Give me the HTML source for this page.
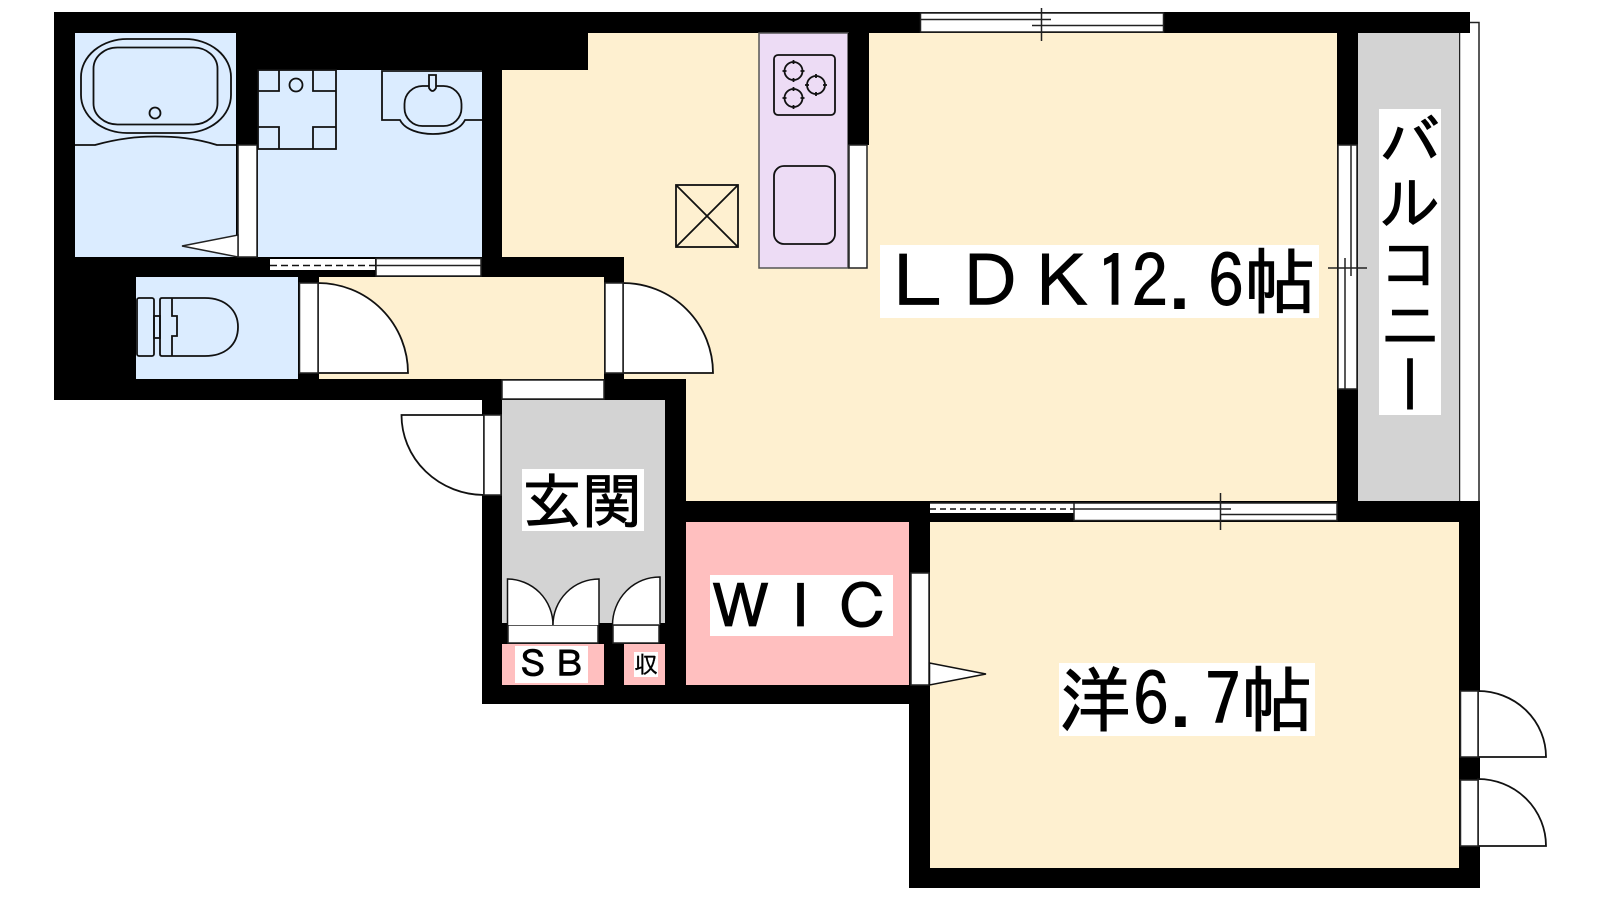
<!DOCTYPE html>
<html><head><meta charset="utf-8"><style>
html,body{margin:0;padding:0;background:#fff;width:1600px;height:900px;overflow:hidden}
svg{display:block}
text{font-family:"IPAGothic","Noto Sans CJK JP",sans-serif;fill:#000;stroke:#000;stroke-width:.9}
.l{fill:none;stroke:#111;stroke-width:1.8}
.w{fill:#fff;stroke:#222;stroke-width:1.5}
.t{stroke:#222;stroke-width:1.5;fill:none}
</style></head><body>
<svg width="1600" height="900" viewBox="0 0 1600 900" xmlns="http://www.w3.org/2000/svg">
<!-- balcony rail -->
<rect x="1459.5" y="22.5" width="19.5" height="490" class="w"/>
<!-- footprint -->
<polygon points="54,12 1470,12 1470,33 1459,33 1459,501 1480,501 1480,888 909,888 909,704 482,704 482,400 54,400" fill="#000"/>
<rect x="1358" y="33" width="101" height="468" fill="#d3d3d3"/>
<!-- rooms -->
<polygon points="588,33 1337,33 1337,501 686,501 686,379 624,379 624,257 502,257 502,70 588,70" fill="#fef0d0"/>
<rect x="319" y="277" width="285" height="102" fill="#fef0d0"/>
<rect x="930" y="522" width="529" height="346" fill="#fef0d0"/>
<rect x="75" y="33" width="161" height="224" fill="#dbecff"/>
<rect x="258" y="70" width="224" height="187" fill="#dbecff"/>
<rect x="136" y="277" width="162" height="102" fill="#dbecff"/>
<rect x="502" y="400" width="163" height="223" fill="#d3d3d3"/>
<rect x="686" y="522" width="223" height="163" fill="#ffbfbf"/>
<rect x="502" y="644" width="102" height="41" fill="#ffbfbf"/>
<rect x="624" y="644" width="41" height="41" fill="#ffbfbf"/>
<rect x="759" y="33" width="89" height="235" fill="#eddcf5" stroke="#555" stroke-width="1.5"/>
<!-- kitchen -->
<rect x="848" y="33" width="21" height="112" fill="#000"/>
<rect x="849" y="145" width="18" height="123" class="w"/>
<rect x="774" y="55" width="61" height="60" rx="4" class="l"/>
<g class="l"><circle cx="793.5" cy="71" r="9"/><circle cx="816" cy="85" r="9"/><circle cx="793.5" cy="98" r="9"/>
<path d="M793.5,60V64M793.5,78V82M782.5,71H786.5M800.5,71H804.5M816,74V78M816,92V96M805,85H809M823,85H827M793.5,87V91M793.5,105V109M782.5,98H786.5M800.5,98H804.5"/></g>
<rect x="774" y="166" width="61" height="78" rx="10" class="l"/>
<!-- shaft -->
<g class="l"><rect x="676" y="185" width="62" height="62"/><path d="M676,185L738,247M738,185L676,247"/></g>
<!-- bath -->
<g class="l">
<rect x="81" y="39" width="150" height="94" rx="46" ry="38"/>
<rect x="93.500" y="47.500" width="124" height="77" rx="24" ry="21"/>
<circle cx="155" cy="113" r="5.500"/>
<path d="M75,145H95C120,138 140,136.500 155,136.500C175,136.500 195,138 217,145H236"/>
</g>
<rect x="238" y="145" width="19" height="112" class="w"/>
<polygon points="182,246 238,235 238,257" class="w"/>
<!-- washroom -->
<g class="l">
<rect x="258" y="70" width="78" height="79"/>
<path d="M279,70V91H258M313,70V91H336M258,127H279V149M336,127H313V149"/>
<circle cx="296" cy="85" r="6.500"/>
<path d="M482,71H382V120H400C405,130 420,134 433,134C447,134 460,130 465,120H482"/>
<rect x="404.500" y="86" width="57" height="40" rx="18"/>
<path d="M429,75H436V88Q432.500,94 429,88Z" fill="#dbecff"/>
</g>
<!-- wash window -->
<rect x="270" y="259" width="105" height="11" fill="#fff"/>
<line x1="270" y1="265.500" x2="375" y2="265.500" stroke="#111" stroke-width="1.6" stroke-dasharray="7 4"/>
<rect x="376" y="258.500" width="105" height="17.500" class="w"/>
<line x1="376" y1="265.500" x2="481" y2="265.500" class="t"/>
<!-- toilet -->
<g class="l">
<rect x="137" y="298" width="17" height="58" rx="2"/>
<rect x="154" y="316" width="6" height="22"/>
<path d="M162,298H205C225,298 238,310 238,327C238,345 225,356 205,356H162Q160,356 160,354V300Q160,298 162,298Z"/>
<path d="M172,298V316H177V336H172V356"/>
</g>
<!-- toilet door -->
<rect x="298" y="277" width="21" height="6" fill="#000"/>
<rect x="298" y="373" width="21" height="6" fill="#000"/>
<path d="M318,283A90,90 0 0 1 408,373H318Z" class="w" style="stroke:#111;stroke-width:1.800"/>
<rect x="299.500" y="283" width="18.500" height="90" class="w"/>
<!-- hall door -->
<path d="M623,283A90,90 0 0 1 713,373H623Z" class="w" style="stroke:#111;stroke-width:1.800"/>
<rect x="605" y="283" width="18" height="90" class="w"/>
<!-- entrance top door -->
<rect x="502" y="380" width="102" height="19" class="w"/>
<!-- entrance outer door -->
<path d="M484,415H401.500A83,80 0 0 0 484,495Z" class="w" style="stroke:#111;stroke-width:1.800"/>
<rect x="484" y="415" width="17" height="80" class="w"/>
<!-- storage doors -->
<rect x="502" y="623" width="6" height="21" fill="#000"/><rect x="598" y="623" width="26" height="21" fill="#000"/><rect x="659" y="623" width="6" height="21" fill="#000"/>
<rect x="508" y="625" width="90" height="18" class="w"/>
<rect x="613" y="625" width="46" height="18" class="w"/>
<path d="M507.500,625V579A46,46 0 0 1 553,625" class="w" style="stroke:#111"/>
<path d="M599,625V579A46,46 0 0 0 553,625" class="w" style="stroke:#111"/>
<path d="M612.500,625A47,48 0 0 1 660,577V625" style="fill:#fff;stroke:#111;stroke-width:1.500"/>
<line x1="613" y1="625" x2="659" y2="625" stroke="#222" stroke-width="1.500"/>
<!-- WIC door -->
<rect x="911" y="573" width="18" height="112" class="w"/>
<polygon points="929.500,663 986,674 929.500,685" class="w" style="stroke:#111"/>
<!-- right doors -->
<path d="M1478,691A68,66 0 0 1 1546,757H1478Z" class="w" style="stroke:#111;stroke-width:1.800"/>
<rect x="1460.500" y="691" width="17.500" height="66" class="w"/>
<path d="M1478,779A68,67 0 0 1 1546,846H1478Z" class="w" style="stroke:#111;stroke-width:1.800"/>
<rect x="1460.500" y="780" width="17.500" height="66" class="w"/>
<!-- top window -->
<rect x="920.500" y="13" width="243" height="19" class="w"/>
<path d="M920.500,19.500H1051M1032,25.500H1164" class="t"/>
<path d="M1041.500,8V41" class="t"/>
<!-- right window -->
<rect x="1338" y="145" width="19" height="244" class="w"/>
<path d="M1351,145V276M1345,258V389" class="t"/>
<path d="M1328,268H1367" class="t"/>
<!-- bottom window -->
<rect x="930" y="503" width="144" height="10" fill="#fff"/>
<line x1="930" y1="509" x2="1074" y2="509" stroke="#111" stroke-width="1.500" stroke-dasharray="6 4"/>
<rect x="1074" y="503" width="263" height="17.500" class="w"/>
<path d="M930,503H1074M1074,509H1231M1221,514.500H1337M1220.500,493V530" class="t"/>
<!-- labels -->
<rect x="880" y="245" width="439" height="73" fill="#fff"/>
<text x="882" y="308" font-size="72">ＬＤＫ<tspan dx="-2">12.</tspan><tspan dx="4">6帖</tspan></text>
<rect x="1059" y="663" width="256" height="73" fill="#fff"/>
<text x="1059" y="726" font-size="72">洋<tspan dx="2">6.7帖</tspan></text>
<rect x="522" y="469" width="122" height="62" fill="#fff"/>
<text x="522" y="523" font-size="60">玄関</text>
<rect x="710" y="575" width="183" height="61" fill="#fff"/>
<text x="710" y="629" font-size="61">Ｗ<tspan dx="-1">Ｉ</tspan><tspan dx="1">Ｃ</tspan></text>
<rect x="515" y="646" width="73" height="37" fill="#fff"/>
<text x="515" y="677" font-size="36">ＳＢ</text>
<rect x="634" y="652" width="24" height="25" fill="#fff"/>
<text x="634" y="673" font-size="24" style="stroke-width:.3">収</text>
<rect x="1379" y="109" width="62" height="306" fill="#fff"/>
<text x="1410" y="110" font-size="61" style="writing-mode:vertical-rl">バルコニー</text>
</svg>
</body></html>
